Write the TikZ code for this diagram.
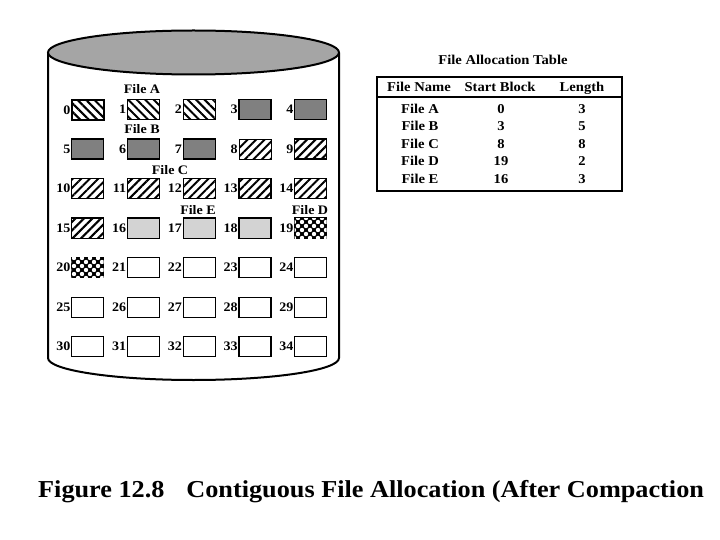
\documentclass[tikz,border=0pt]{standalone}
\usepackage{fontspec}
\setmainfont{Liberation Serif}[FakeStretch=1.08]
\usetikzlibrary{patterns,patterns.meta}
\pgfdeclarepatternformonly{bigdots}{\pgfpoint{-1pt}{-1pt}}{\pgfpoint{9pt}{9pt}}{\pgfpoint{8pt}{8pt}}{%
  \pgfpathcircle{\pgfpoint{2pt}{2pt}}{2.2pt}%
  \pgfpathcircle{\pgfpoint{6pt}{6pt}}{2.2pt}%
  \pgfusepath{fill}}
\definecolor{topgray}{RGB}{165,165,165}
\definecolor{darkfill}{RGB}{128,128,128}
\definecolor{lightfill}{RGB}{211,211,211}
\tikzset{
  blk/.style={draw=black, line width=1.3pt, minimum width=32pt, minimum height=20pt, inner sep=0pt, anchor=north west},
  fa/.style={blk, pattern={Lines[angle=-45,distance=6pt,line width=2pt]}},
  fb/.style={blk, fill=darkfill},
  fc/.style={blk, pattern={Lines[angle=45,distance=6pt,line width=2pt]}},
  fe/.style={blk, fill=lightfill},
  fd/.style={blk, fill=black, postaction={pattern=bigdots, pattern color=white}},
  ff/.style={blk, fill=white},
  num/.style={font=\bfseries\fontsize{13}{15}\selectfont, anchor=east, inner sep=0.3pt, text height=8.5pt, text depth=0pt},
  flabel/.style={font=\bfseries\fontsize{13}{15}\selectfont, inner sep=0pt, text height=8.5pt, text depth=0pt},
  ttext/.style={font=\bfseries\fontsize{13.5}{15}\selectfont, inner sep=0pt, text height=9pt, text depth=0pt}
}
\begin{document}
\begin{tikzpicture}[x=1pt,y=-1pt]
\useasboundingbox (0,0) rectangle (720,540);
% cylinder
\draw[line width=2pt, fill=white] (48,53) -- (48,358) arc[start angle=180, end angle=0, x radius=145.5, y radius=22] -- (339,53);
\draw[line width=2pt, fill=topgray] (193.5,52.5) ellipse [x radius=145.5, y radius=22];
% blocks
\foreach \i/\t in {0/fa,1/fa,2/fa,3/fb,4/fb,5/fb,6/fb,7/fb,8/fc,9/fc,10/fc,11/fc,12/fc,13/fc,14/fc,15/fc,16/fe,17/fe,18/fe,19/fd,20/fd,21/ff,22/ff,23/ff,24/ff,25/ff,26/ff,27/ff,28/ff,29/ff,30/ff,31/ff,32/ff,33/ff,34/ff}{
  \pgfmathtruncatemacro{\col}{mod(\i,5)}
  \pgfmathtruncatemacro{\row}{int(\i/5)}
  \pgfmathsetmacro{\bx}{71+55.75*\col}
  \pgfmathsetmacro{\by}{99+39.5*\row}
  \node[\t] (b\i) at (\bx,\by) {};
  \node[num] (n\i) at (b\i.west) {\i};
}
% file labels
\node[flabel] (la) at (142,89) {File A};
\node[flabel] (lb) at (142,129) {File B};
\node[flabel] (lc) at (170,170) {File C};
\node[flabel] (le) at (198,210) {File E};
\node[flabel] (ld) at (310,210) {File D};
% table
\node[ttext] (ttitle) at (503,60) {File Allocation Table};
\draw[line width=1.5pt] (377,77) rectangle (622,191);
\draw[line width=1.5pt] (377,97) -- (622,97);
\node[ttext] (h1) at (419,87) {File Name};
\node[ttext] (h2) at (500,87) {Start Block};
\node[ttext] (h3) at (582,87) {Length};
\foreach \n/\s/\l [count=\k from 0] in {A/0/3,B/3/5,C/8/8,D/19/2,E/16/3}{
  \pgfmathsetmacro{\ty}{109+17.4*\k}
  \node[ttext] (r\k a) at (420,\ty) {File \n};
  \node[ttext] (r\k b) at (501,\ty) {\s};
  \node[ttext] (r\k c) at (582,\ty) {\l};
}
% caption
\node[font=\bfseries\fontsize{24.3}{28}\selectfont, anchor=west, inner sep=0pt] (cap) at (38,492) {Figure 12.8\hspace{0.9em}Contiguous File Allocation (After Compaction};
\end{tikzpicture}
\end{document}
